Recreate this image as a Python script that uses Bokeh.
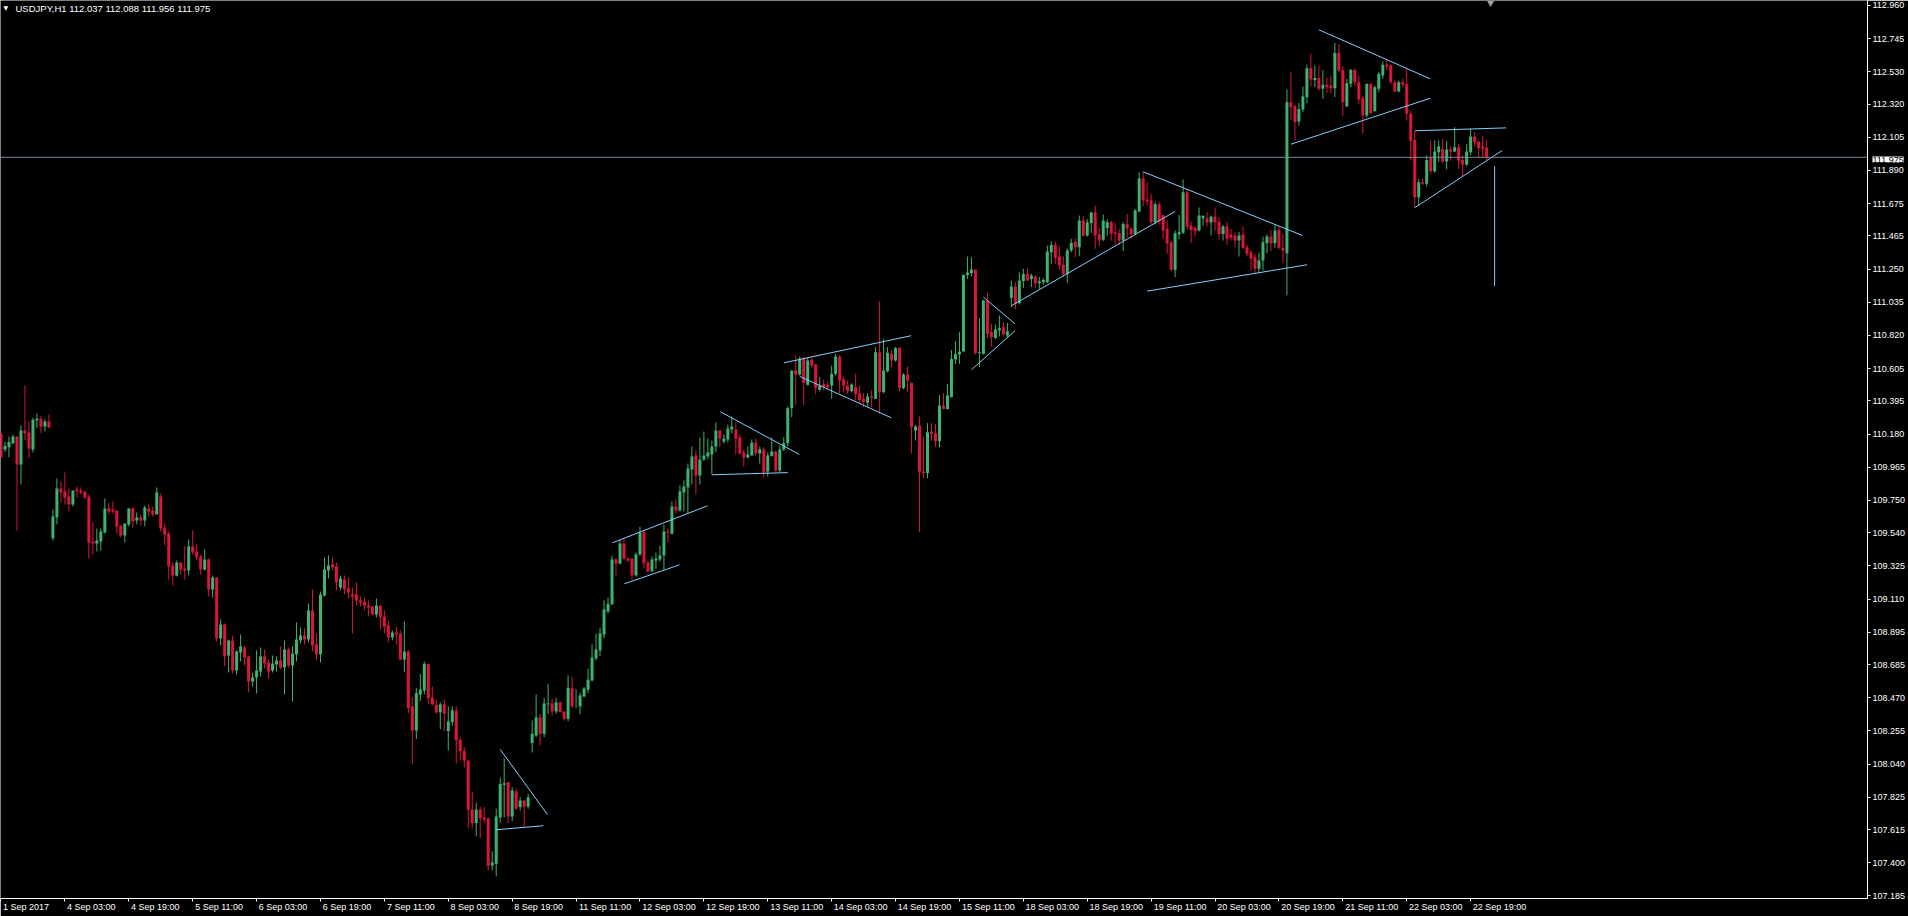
from bokeh.plotting import figure
from bokeh.models import (Range1d, FixedTicker, Label, Span, ColumnDataSource,
                          NumeralTickFormatter, LinearAxis, Title)
from bokeh.embed import file_html
from bokeh.resources import INLINE

# ---------------- data (USDJPY H1, 1 Sep 2017 11:00 .. 22 Sep 2017 23:00) ----------------
opens = [
110.182,110.080,110.095,110.121,110.164,109.983,110.203,110.190,110.080,110.268,110.279,110.229,110.262,
109.505,109.641,109.827,109.808,109.775,109.723,109.821,109.814,109.808,109.775,109.484,109.471,109.484,109.542,
109.698,109.691,109.685,109.587,109.522,109.594,109.698,109.620,109.639,109.620,109.698,109.685,109.659,109.775,
109.574,109.535,109.328,109.263,109.347,109.308,109.295,109.451,109.419,109.386,109.302,109.367,109.172,109.250,
108.854,108.945,108.744,108.842,108.647,108.764,108.796,108.738,108.576,108.602,108.640,108.738,108.699,108.647,
108.686,108.712,108.666,108.783,108.679,108.751,108.842,108.874,108.848,109.036,108.816,108.751,109.133,109.295,
109.334,109.321,109.185,109.237,109.179,109.140,109.140,109.101,109.094,109.068,109.062,109.010,109.068,108.997,
108.939,108.861,108.893,108.885,108.718,108.770,108.414,108.258,108.491,108.517,108.690,108.470,108.424,108.375,
108.427,108.254,108.312,108.388,108.197,108.124,108.063,107.746,107.657,107.746,107.694,107.687,107.382,107.393,
107.694,107.906,107.923,107.700,107.862,107.761,107.804,107.765,
108.176,108.225,108.342,108.236,108.427,108.433,108.381,108.440,108.381,108.334,108.530,108.414,108.414,108.478,
108.522,108.582,108.725,108.777,108.880,109.030,109.075,109.367,109.341,109.470,109.373,109.373,109.263,109.399,
109.542,109.347,109.289,109.360,109.367,109.393,109.548,109.533,109.710,109.684,109.801,109.834,109.950,110.041,
109.911,110.015,110.035,110.048,110.099,110.203,110.132,110.145,110.210,110.210,110.158,110.061,110.028,110.041,
110.125,110.054,110.080,109.937,110.037,110.067,109.944,110.080,110.121,110.348,110.592,110.566,110.670,110.499,
110.661,110.631,110.467,110.504,110.500,110.495,110.571,110.683,110.536,110.495,110.458,110.484,110.445,110.409,
110.383,110.424,110.409,110.711,110.452,110.588,110.700,110.657,110.741,110.480,110.566,110.512,110.203,110.236,
109.937,109.927,110.197,110.186,110.134,110.365,110.342,110.419,110.664,110.696,110.715,111.211,111.224,111.247,
110.705,110.700,111.046,110.841,110.804,110.852,110.873,110.819,
111.064,111.137,111.029,111.172,111.219,111.185,111.202,111.159,111.165,111.165,111.360,111.407,111.332,111.278,
111.219,111.370,111.425,111.392,111.565,111.468,111.548,111.617,111.474,111.440,111.517,111.554,111.489,111.483,
111.435,111.543,111.511,111.478,111.623,111.837,111.701,111.695,111.554,111.671,111.601,111.511,111.424,111.245,
111.476,111.485,111.749,111.533,111.517,111.500,111.580,111.580,111.552,111.591,111.558,111.478,111.526,111.474,
111.468,111.435,111.474,111.392,111.360,111.327,111.252,111.306,111.418,111.461,111.418,111.504,111.388,111.353,
112.332,112.306,112.207,112.285,112.365,112.553,112.477,112.490,112.419,112.445,112.440,112.423,112.652,112.542,
112.306,112.452,112.542,112.462,112.358,112.246,112.451,112.276,112.419,112.505,112.577,112.570,112.462,112.402,
112.462,112.451,112.257,112.088,111.716,111.814,111.803,111.971,111.885,112.008,112.030,111.948,112.025,112.012,
112.041,111.958,111.928,112.008,112.110,112.077,112.045,112.037]
highs = [
110.186,110.128,110.164,110.177,110.168,110.236,110.495,110.262,110.286,110.314,110.298,110.279,110.307,
109.691,109.892,109.873,109.931,109.827,109.814,109.840,109.834,109.808,109.788,109.607,109.568,109.568,109.762,
109.736,109.743,109.685,109.587,109.600,109.698,109.704,109.672,109.659,109.717,109.723,109.710,109.834,109.795,
109.600,109.548,109.347,109.360,109.347,109.451,109.497,109.555,109.464,109.399,109.432,109.373,109.263,109.250,
108.978,108.952,108.848,108.874,108.777,108.880,108.809,108.744,108.634,108.777,108.796,108.783,108.718,108.744,
108.738,108.803,108.842,108.796,108.803,108.958,108.926,108.919,109.081,109.172,108.887,109.159,109.380,109.393,
109.380,109.347,109.263,109.263,109.250,109.185,109.218,109.127,109.120,109.101,109.062,109.114,109.068,109.036,
108.971,108.906,108.932,108.906,108.965,108.777,108.474,108.535,108.625,108.705,108.690,108.543,108.457,108.440,
108.457,108.414,108.414,108.414,108.215,108.150,108.063,107.862,107.791,107.761,107.761,107.694,107.475,107.750,
107.951,108.076,107.923,107.890,107.880,107.825,107.804,107.847,
108.323,108.491,108.366,108.470,108.561,108.463,108.470,108.446,108.381,108.615,108.608,108.524,108.502,108.539,
108.658,108.816,108.885,108.924,109.101,109.120,109.390,109.377,109.494,109.507,109.380,109.373,109.412,109.579,
109.555,109.360,109.386,109.412,109.457,109.594,109.568,109.743,109.756,109.847,109.879,109.989,110.099,110.074,
110.158,110.197,110.151,110.138,110.255,110.203,110.177,110.242,110.294,110.255,110.177,110.080,110.099,110.145,
110.151,110.099,110.095,110.061,110.158,110.074,110.106,110.160,110.359,110.592,110.690,110.683,110.683,110.679,
110.675,110.636,110.549,110.532,110.520,110.625,110.700,110.690,110.549,110.527,110.510,110.571,110.495,110.445,
110.445,110.463,110.744,111.040,110.798,110.744,110.726,110.744,110.741,110.575,110.618,110.512,110.240,110.294,
110.164,110.251,110.251,110.246,110.432,110.445,110.506,110.726,110.782,110.841,111.213,111.332,111.327,111.247,
110.932,111.051,111.096,110.895,110.891,110.949,110.906,110.901,
111.176,111.165,111.230,111.252,111.256,111.221,111.208,111.198,111.191,111.403,111.429,111.429,111.399,111.332,
111.383,111.446,111.446,111.597,111.595,111.574,111.619,111.662,111.517,111.604,111.572,111.565,111.548,111.509,
111.554,111.608,111.520,111.640,111.878,111.878,111.811,111.740,111.688,111.688,111.601,111.565,111.435,111.500,
111.601,111.831,111.764,111.558,111.530,111.649,111.600,111.619,111.598,111.649,111.588,111.535,111.558,111.511,
111.487,111.490,111.526,111.409,111.375,111.349,111.357,111.461,111.474,111.504,111.539,111.526,111.478,112.415,
112.531,112.315,112.328,112.434,112.577,112.646,112.570,112.570,112.542,112.495,112.505,112.717,112.711,112.564,
112.484,112.549,112.553,112.505,112.376,112.456,112.456,112.440,112.527,112.596,112.614,112.581,112.473,112.473,
112.484,112.549,112.278,112.144,111.835,111.835,111.987,112.084,112.084,112.084,112.095,112.080,112.047,112.170,
112.062,111.987,112.062,112.159,112.138,112.077,112.110,112.088]
lows = [
110.026,110.063,110.030,110.113,109.555,109.853,110.139,110.022,110.061,110.221,110.186,110.197,110.219,
109.490,109.594,109.736,109.723,109.678,109.710,109.769,109.788,109.756,109.373,109.399,109.419,109.425,109.535,
109.659,109.665,109.535,109.509,109.477,109.581,109.574,109.594,109.587,109.581,109.646,109.646,109.659,109.548,
109.458,109.237,109.198,109.257,109.270,109.237,109.263,109.399,109.360,109.270,109.295,109.127,109.120,108.835,
108.809,108.673,108.634,108.627,108.621,108.705,108.679,108.504,108.543,108.498,108.608,108.660,108.595,108.634,
108.640,108.653,108.491,108.666,108.446,108.705,108.822,108.816,108.829,108.770,108.712,108.699,109.127,109.244,
109.295,109.166,109.166,109.140,109.114,108.887,109.068,109.062,109.036,108.997,109.004,108.991,108.913,108.887,
108.829,108.842,108.816,108.712,108.636,108.370,108.040,108.202,108.448,108.491,108.431,108.420,108.366,108.267,
108.254,108.128,108.290,108.042,108.063,108.020,107.622,107.622,107.571,107.560,107.660,107.350,107.350,107.311,
107.657,107.692,107.657,107.670,107.745,107.739,107.627,107.750,
108.115,108.215,108.161,108.215,108.366,108.355,108.366,108.377,108.323,108.318,108.403,108.403,108.362,108.474,
108.500,108.576,108.712,108.740,108.857,109.015,109.075,109.263,109.334,109.360,109.350,109.231,109.256,109.390,
109.308,109.282,109.289,109.306,109.354,109.295,109.477,109.529,109.665,109.678,109.678,109.665,109.853,109.788,
109.853,110.005,110.016,109.918,110.061,110.099,110.119,110.125,110.184,110.048,110.048,109.970,110.022,110.041,
110.041,109.989,109.898,109.905,110.035,109.931,109.931,110.070,110.099,110.290,110.370,110.560,110.370,110.495,
110.610,110.441,110.458,110.463,110.470,110.409,110.560,110.445,110.452,110.441,110.450,110.398,110.376,110.355,
110.359,110.355,110.409,110.311,110.445,110.580,110.614,110.650,110.458,110.470,110.452,110.056,110.138,109.544,
109.894,109.894,110.138,110.095,110.095,110.342,110.342,110.419,110.636,110.636,110.715,111.187,111.202,110.696,
110.614,110.696,110.798,110.748,110.798,110.813,110.819,110.808,
111.003,110.988,111.020,111.128,111.172,111.133,111.128,111.122,111.148,111.159,111.284,111.284,111.245,111.198,
111.161,111.360,111.327,111.334,111.461,111.461,111.485,111.381,111.399,111.431,111.466,111.435,111.409,111.407,
111.366,111.457,111.446,111.472,111.619,111.658,111.662,111.543,111.539,111.539,111.446,111.349,111.236,111.198,
111.444,111.478,111.507,111.418,111.461,111.494,111.533,111.526,111.468,111.500,111.442,111.435,111.407,111.435,
111.392,111.332,111.381,111.332,111.241,111.223,111.226,111.241,111.353,111.366,111.388,111.379,111.288,111.079,
112.220,112.084,112.181,112.267,112.326,112.436,112.430,112.408,112.354,112.391,112.391,112.365,112.527,112.242,
112.300,112.430,112.441,112.322,112.131,112.235,112.252,112.269,112.397,112.484,112.538,112.451,112.397,112.397,
112.430,112.213,111.954,111.651,111.662,111.794,111.786,111.868,111.874,111.946,111.939,111.896,111.954,112.008,
111.900,111.850,111.919,111.989,112.045,111.971,111.971,111.956]
closes = [
110.030,110.102,110.128,110.164,109.983,110.203,110.186,110.087,110.273,110.279,110.229,110.262,110.223,
109.646,109.827,109.801,109.769,109.723,109.814,109.810,109.801,109.769,109.477,109.471,109.490,109.548,109.698,
109.678,109.678,109.581,109.522,109.600,109.698,109.613,109.639,109.620,109.704,109.678,109.659,109.801,109.568,
109.529,109.321,109.263,109.347,109.302,109.295,109.451,109.412,109.380,109.302,109.367,109.172,109.250,108.854,
108.945,108.738,108.842,108.647,108.770,108.803,108.731,108.576,108.602,108.647,108.738,108.692,108.640,108.692,
108.712,108.666,108.783,108.679,108.757,108.848,108.874,108.848,109.036,108.809,108.751,109.140,109.302,109.328,
109.315,109.218,109.244,109.172,109.153,109.127,109.101,109.088,109.068,109.055,109.010,109.068,108.991,108.932,
108.861,108.893,108.880,108.718,108.770,108.403,108.258,108.500,108.524,108.690,108.468,108.427,108.375,108.427,
108.366,108.316,108.388,108.193,108.124,108.063,107.746,107.657,107.746,107.689,107.681,107.382,107.402,107.700,
107.910,107.916,107.700,107.869,107.750,107.804,107.765,107.823,
108.236,108.342,108.236,108.433,108.433,108.381,108.440,108.377,108.334,108.535,108.414,108.414,108.485,108.530,
108.587,108.731,108.783,108.887,109.043,109.079,109.367,109.341,109.470,109.373,109.360,109.263,109.399,109.542,
109.341,109.289,109.367,109.373,109.393,109.548,109.540,109.710,109.684,109.808,109.840,109.957,110.035,109.911,
110.015,110.041,110.061,110.099,110.203,110.151,110.151,110.216,110.229,110.151,110.054,110.028,110.048,110.125,
110.054,110.080,109.931,110.041,110.067,109.944,110.080,110.121,110.348,110.592,110.566,110.670,110.512,110.657,
110.625,110.480,110.495,110.486,110.484,110.571,110.683,110.527,110.495,110.458,110.501,110.441,110.402,110.387,
110.424,110.415,110.711,110.452,110.592,110.707,110.657,110.737,110.480,110.566,110.527,110.225,110.229,109.937,
109.927,110.192,110.182,110.134,110.365,110.342,110.430,110.668,110.700,110.715,111.213,111.228,111.247,110.705,
110.711,111.046,110.830,110.808,110.858,110.867,110.826,110.847,
111.137,111.027,111.176,111.219,111.176,111.208,111.159,111.170,111.180,111.364,111.407,111.323,111.273,111.219,
111.370,111.420,111.392,111.565,111.468,111.552,111.617,111.468,111.435,111.565,111.554,111.479,111.479,111.435,
111.543,111.511,111.478,111.630,111.837,111.695,111.690,111.554,111.671,111.558,111.500,111.418,111.245,111.483,
111.489,111.749,111.526,111.504,111.496,111.597,111.595,111.552,111.591,111.554,111.478,111.526,111.446,111.453,
111.435,111.468,111.388,111.349,111.317,111.252,111.306,111.424,111.461,111.418,111.500,111.388,111.370,112.332,
112.300,112.203,112.289,112.369,112.553,112.479,112.490,112.419,112.445,112.430,112.423,112.652,112.538,112.332,
112.456,112.542,112.462,112.350,112.246,112.451,112.263,112.430,112.516,112.575,112.564,112.462,112.402,112.462,
112.445,112.257,112.080,111.716,111.814,111.803,111.958,111.885,112.012,112.045,111.948,112.025,112.012,112.041,
111.954,111.928,112.012,112.110,112.073,112.036,112.030,111.975]

x_tick_bars = [0, 16, 32, 48, 64, 80, 96, 112, 128, 144, 160, 176, 192, 208, 224, 240,
               256, 272, 288, 304, 320, 336, 352, 368]
x_tick_labels = ["1 Sep 2017", "4 Sep 03:00", "4 Sep 19:00", "5 Sep 11:00", "6 Sep 03:00",
                 "6 Sep 19:00", "7 Sep 11:00", "8 Sep 03:00", "8 Sep 19:00", "11 Sep 11:00",
                 "12 Sep 03:00", "12 Sep 19:00", "13 Sep 11:00", "14 Sep 03:00", "14 Sep 19:00",
                 "15 Sep 11:00", "18 Sep 03:00", "18 Sep 19:00", "19 Sep 11:00", "20 Sep 03:00",
                 "20 Sep 19:00", "21 Sep 11:00", "22 Sep 03:00", "22 Sep 19:00"]
y_tick_values = [112.960, 112.745, 112.530, 112.320, 112.105, 111.890, 111.675, 111.465,
                 111.250, 111.035, 110.820, 110.605, 110.395, 110.180, 109.965, 109.750,
                 109.540, 109.325, 109.110, 108.895, 108.685, 108.470, 108.255, 108.040,
                 107.825, 107.615, 107.400, 107.185]

# trend lines drawn on the chart (bar index, price)
trend_x0 = [125.0, 124.0, 153.1, 156.1, 180.1, 178.0, 196.0, 200.0, 246.0, 243.0, 253.0,
            286.0, 287.0, 330.0, 323.0, 354.0, 354.0, 374.0]
trend_y0 = [108.135, 107.614, 109.475, 109.209, 110.325, 109.916, 110.642, 110.554, 111.068,
            110.597, 111.012, 111.881, 111.107, 112.802, 112.060, 112.147, 111.648, 111.917]
trend_x1 = [136.8, 135.8, 176.9, 169.9, 199.9, 197.0, 227.9, 222.9, 253.9, 253.9, 294.0,
            325.9, 327.0, 357.9, 357.9, 376.9, 375.9, 374.0]
trend_y1 = [107.713, 107.640, 109.715, 109.332, 110.048, 109.930, 110.818, 110.286, 110.895,
            110.850, 111.624, 111.468, 111.278, 112.484, 112.358, 112.166, 112.019, 111.139]

symbol = "USDJPY,H1"
bid_price = 111.975
header_text = f"{symbol}  {opens[-1]:.3f} {highs[-1]:.3f} {lows[-1]:.3f} {closes[-1]:.3f}"

assert len(opens) == len(highs) == len(lows) == len(closes) == 373

BULL = "#3CB371"
BEAR = "#DC143C"
FONT = "Liberation Sans"
FONT_PX = 9

# layout constants (pixels)
PX_PER_BAR = 4
FRAME_W, FRAME_H = 1870, 898
X0, X1 = -0.125, 467.375          # 1870 px of frame / 4 px per bar
Y0, Y1 = 107.168, 112.992         # 898 px of frame
px_per_price = FRAME_H / (Y1 - Y0)

idx = list(range(len(opens)))
colors = [BULL if c >= o else BEAR for o, c in zip(opens, closes)]
src = ColumnDataSource(dict(
    x=idx, high=highs, low=lows,
    top=[max(o, c) for o, c in zip(opens, closes)],
    bottom=[min(o, c) for o, c in zip(opens, closes)],
    color=colors))

p = figure(width=1908, height=916, output_backend="svg", toolbar_location=None,
           x_range=Range1d(X0, X1), y_range=Range1d(Y0, Y1),
           y_axis_location="right",
           background_fill_color="black", border_fill_color="black",
           min_border_left=0, min_border_top=0, min_border_right=38, min_border_bottom=18)
p.outline_line_color = None
p.grid.visible = False

# candles
p.segment(x0="x", y0="low", x1="x", y1="high", color="color", line_width=1, source=src)
p.vbar(x="x", width=0.75, top="top", bottom="bottom", fill_color="color", line_color=None, source=src)

# trend lines
p.segment(x0=trend_x0, y0=trend_y0, x1=trend_x1, y1=trend_y1, line_color="#87CEFA", line_width=1)

# bid line
p.add_layout(Span(location=bid_price, dimension="width", line_color="#778899", line_width=1))

# chart-shift marker at the top, one bar after the last candle
p.scatter(x=[len(opens)], y=[Y1 - 2.5 / px_per_price], marker="inverted_triangle",
          size=7, fill_color="#A0A0A0", line_color=None)

# y axis (right)
ya = p.yaxis[0]
ya.ticker = FixedTicker(ticks=y_tick_values, minor_ticks=[])
ya.formatter = NumeralTickFormatter(format="0.000")
ya.axis_line_color = "white"
ya.major_tick_line_color = "white"
ya.major_tick_in = 0
ya.major_tick_out = 3
ya.minor_tick_line_color = None
ya.major_label_standoff = 2
ya.major_label_text_color = "white"
ya.major_label_text_font = FONT
ya.major_label_text_font_size = f"{FONT_PX}px"

# x axis (bottom): tick marks only
xa = p.xaxis[0]
xa.ticker = FixedTicker(ticks=x_tick_bars, minor_ticks=[])
xa.major_label_overrides = {t: "" for t in x_tick_bars}
xa.major_label_text_font_size = "1px"
xa.major_label_standoff = 0
xa.axis_line_color = "white"
xa.major_tick_line_color = "white"
xa.major_tick_in = 0
xa.major_tick_out = 3
xa.minor_tick_line_color = None

# second bottom axis carrying the time labels, which MT4 draws starting just right of each tick
ARIAL_ADV = {c: 556 for c in "0123456789"}
ARIAL_ADV.update({" ": 278, ":": 278, "S": 667, "e": 556, "p": 556})
def text_px(s):
    return sum(ARIAL_ADV.get(ch, 556) for ch in s) * FONT_PX / 1000.0
label_pos = [round((t + (2 + text_px(lab) / 2) / PX_PER_BAR) * 8) / 8
             for t, lab in zip(x_tick_bars, x_tick_labels)]
lab_axis = LinearAxis(ticker=FixedTicker(ticks=label_pos, minor_ticks=[]),
                      major_label_overrides=dict(zip(label_pos, x_tick_labels)),
                      axis_line_color=None, major_tick_line_color=None,
                      minor_tick_line_color=None, major_tick_in=0, major_tick_out=0,
                      major_label_standoff=0, major_label_text_color="white",
                      major_label_text_font=FONT, major_label_text_font_size=f"{FONT_PX}px")
p.add_layout(lab_axis, "below")

# current-price box on the price scale (side-panel title, so it is not clipped to the frame);
# with bottom alignment the text bottom sits at -standoff/2 from the top of the canvas
box_center_px = (Y1 - bid_price) * px_per_price
box_bottom_px = box_center_px + 5
price_box = Title(text=f"{bid_price:.3f}", align="left", vertical_align="bottom",
                  offset=FRAME_W + 2, standoff=-int(round(2 * box_bottom_px)),
                  text_color="black", text_font=FONT, text_font_size=f"{FONT_PX}px",
                  text_font_style="normal", background_fill_color="white")
p.add_layout(price_box, "above")

# header
p.add_layout(Label(x=X0, y=Y1, x_offset=3, y_offset=-3, text="\u25BC",
                   text_align="left", text_baseline="top", text_color="white",
                   text_font="DejaVu Sans", text_font_size="6px"))
p.add_layout(Label(x=X0, y=Y1, x_offset=15, y_offset=-2, text=header_text,
                   text_align="left", text_baseline="top", text_color="white",
                   text_font=FONT, text_font_size="9.5px"))

open("out.html", "w").write(file_html(p, INLINE))
